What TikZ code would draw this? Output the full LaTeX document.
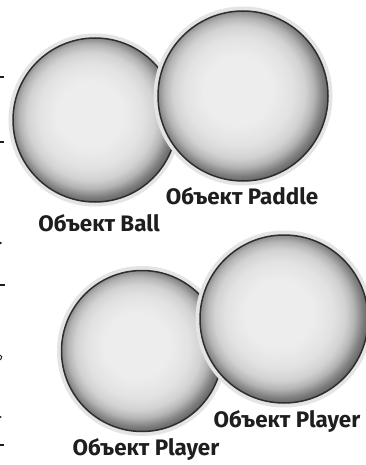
\documentclass[tikz,border=0pt]{standalone}
\usepackage{fontspec}
\setmainfont{Fira Sans}
\definecolor{orbA}{HTML}{EDEDED}
\definecolor{orbB}{HTML}{E2E2E2}
\definecolor{orbC}{HTML}{D2D2D2}
\definecolor{orbD}{HTML}{B4B4B4}
\definecolor{orbE}{HTML}{7E7E7E}
\definecolor{orbF}{HTML}{575757}
\definecolor{orbline}{HTML}{2E2E2E}
\definecolor{halo}{HTML}{E4E4E4}
\definecolor{ink}{HTML}{1E1E1E}
% soft grey sphere: light centre, darker band towards the rim
\pgfdeclareradialshading{orb}{\pgfpoint{-2bp}{2bp}}{%
  color(0bp)=(orbA); color(10bp)=(orbA); color(16bp)=(orbB);
  color(19.5bp)=(orbC); color(22bp)=(orbD); color(24.5bp)=(orbE);
  color(27bp)=(orbF); color(50bp)=(orbF)}
\begin{document}
\begin{tikzpicture}[x=1pt,y=-1pt,
  orb/.style={circle, inner sep=0pt, minimum size=#1, shade, shading=orb,
    draw=orbline, line width=1.5pt,
    preaction={draw=halo, line width=9pt}},
  lbl/.style={font=\bfseries\fontsize{22.4}{22.4}\selectfont, text=ink, inner sep=0pt},
  cutmark/.style={ink, line width=1.3pt}]
\useasboundingbox (0,0) rectangle (365,465);
\fill[white] (0,0) rectangle (365,465);

% objects (later ones lie on top)
\node[orb=164pt] (ball) at (95,120) {};
\node[orb=170pt] (paddle) at (243,96) {};
\node[orb=161pt] (playerA) at (142,351) {};
\node[orb=168pt] (playerB) at (284,319) {};

% captions
\node[lbl] (paddleLabel) at (242,196) {Объект Paddle};
\node[lbl] (ballLabel) at (99,223) {Объект Ball};
\node[lbl] (playerBLabel) at (287,421) {Объект Player};
\node[lbl] (playerALabel) at (146,449) {Объект Player};

% ends of text lines at the left margin
\coordinate (m1a) at (0,77);  \coordinate (m1b) at (4,77);
\coordinate (m2a) at (0,142); \coordinate (m2b) at (4,142);
\coordinate (m4a) at (0,285); \coordinate (m4b) at (5,285);
\coordinate (m7a) at (0,445); \coordinate (m7b) at (4,445);
\draw[cutmark] (m1a) -- (m1b);
\draw[cutmark] (m2a) -- (m2b);
\draw[cutmark] (m4a) -- (m4b);
\draw[cutmark] (m7a) -- (m7b);
\fill[ink] (0.6,243) circle (1.3);
\fill[ink] (0.6,417) circle (1.0);
\draw[cutmark, line width=1pt] (0,355) .. controls (2,355) and (2.5,358) .. (0.5,360);
\end{tikzpicture}
\end{document}
